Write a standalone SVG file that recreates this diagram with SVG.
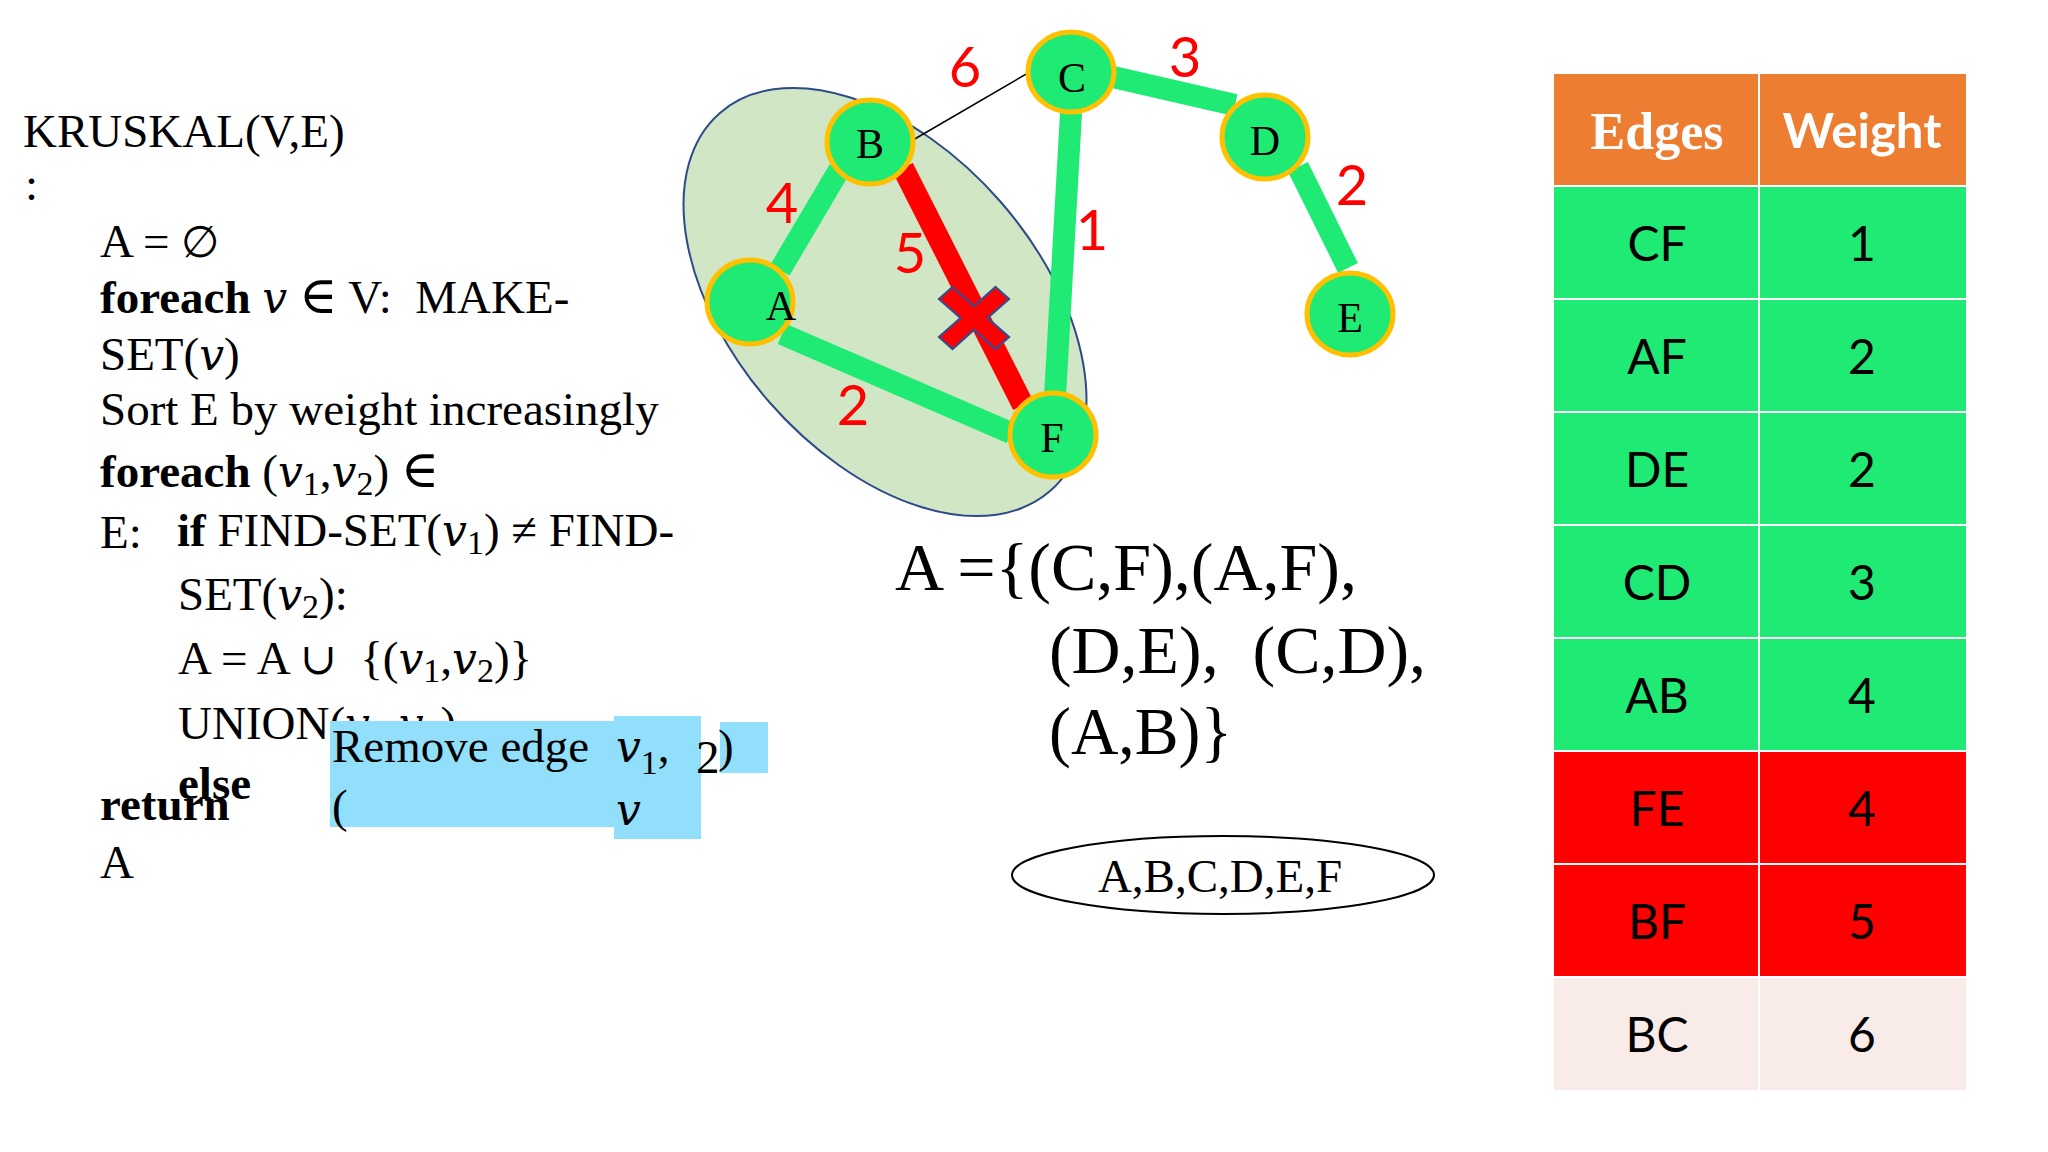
<svg xmlns="http://www.w3.org/2000/svg" width="2048" height="1152" viewBox="0 0 2048 1152">
<style>
.code{font-family:"Liberation Serif","DejaVu Serif",serif;font-size:47px;fill:#000}
.b{font-weight:bold}
.it{font-style:italic;font-family:"DejaVu Serif",serif;font-size:44px}
.sym{font-family:"DejaVu Serif",serif;font-size:44px}
.el{font-family:"DejaVu Serif",serif;font-size:52px}
.sub{font-size:34px}
.nodeshape{fill:#1FEB74;stroke:#FFC000;stroke-width:5}
.nlabel{font-family:"Liberation Serif","DejaVu Serif",serif;font-size:42px;fill:#000;text-anchor:middle}
.edge{stroke:#1FEB74;stroke-width:22;stroke-linecap:butt;fill:none}
.wt{font-family:Lato,"Liberation Sans",sans-serif;font-size:56px;fill:#FF0000;text-anchor:middle}
.set{font-family:"Liberation Serif","DejaVu Serif",serif;font-size:68px;fill:#000}
.cell{font-family:Lato,"Liberation Sans",sans-serif;font-size:48px;fill:#000;text-anchor:middle}
.blue{fill:#91DFFA}
</style>
<rect width="2048" height="1152" fill="#FFFFFF"/>

<g id="pseudocode">
<text class="code" x="23" y="147" font-size="45">KRUSKAL(V,E)</text>
<text class="code" x="25" y="200">:</text>
<text class="code" x="100" y="257">A = <tspan class="sym">∅</tspan></text>
<text class="code" x="100" y="313"><tspan class="b">foreach</tspan> <tspan class="it">v</tspan> <tspan class="el">∈</tspan> V:&#160; MAKE-</text>
<text class="code" x="100" y="370">SET(<tspan class="it">v</tspan>)</text>
<text class="code" x="100" y="425">Sort E by weight increasingly</text>
<text class="code" x="100" y="487"><tspan class="b">foreach</tspan> (<tspan class="it">v</tspan><tspan class="sub" dy="8">1</tspan><tspan dy="-8">,</tspan><tspan class="it">v</tspan><tspan class="sub" dy="8">2</tspan><tspan dy="-8">) </tspan><tspan class="el">∈</tspan></text>
<text class="code" x="100" y="548">E:</text>
<text class="code" x="177" y="546"><tspan class="b">if</tspan> FIND-SET(<tspan class="it">v</tspan><tspan class="sub" dy="8">1</tspan><tspan dy="-8">) ≠ FIND-</tspan></text>
<text class="code" x="178" y="610">SET(<tspan class="it">v</tspan><tspan class="sub" dy="8">2</tspan><tspan dy="-8">):</tspan></text>
<text class="code" x="178" y="674">A = A <tspan class="sym">∪</tspan>&#160; {(<tspan class="it">v</tspan><tspan class="sub" dy="8">1</tspan><tspan dy="-8">,</tspan><tspan class="it">v</tspan><tspan class="sub" dy="8">2</tspan><tspan dy="-8">)}</tspan></text>
<text class="code" x="178" y="739">UNION(<tspan class="it">v</tspan><tspan class="sub" dy="8">1</tspan><tspan dy="-8">,</tspan><tspan class="it">v</tspan><tspan class="sub" dy="8">2</tspan><tspan dy="-8">)</tspan></text>
<text class="code b" x="178" y="799">else</text>
<text class="code b" x="100" y="820">return</text>
<text class="code" x="100" y="878">A</text>
</g>

<g id="remove-edge-note">
<rect class="blue" x="330" y="721" width="285" height="106"/>
<rect class="blue" x="614" y="716" width="87" height="123"/>
<rect class="blue" x="720" y="722" width="48" height="51"/>
<text class="code" x="332" y="762">Remove edge</text>
<text class="code" x="616" y="762"><tspan class="it">v</tspan><tspan class="sub" dy="12">1</tspan><tspan dy="-12">,</tspan></text>
<text class="code" x="696" y="773" font-size="36">2</text>
<text class="code" x="718" y="762">)</text>
<text class="code" x="332" y="822">(</text>
<text class="code it" x="616" y="825">v</text>
</g>

<g id="component-ellipse">
<ellipse cx="885" cy="302" rx="251" ry="153" transform="rotate(48.8 885 302)" fill="#D0E6C4" stroke="#2F4A8A" stroke-width="2"/>
</g>

<g id="connectors">
<line class="edge" x1="780" y1="270" x2="839" y2="170"/>
<line class="edge" x1="782" y1="334" x2="1011" y2="433"/>
<line class="edge" x1="903" y1="168" x2="1023" y2="405" style="stroke:#FF0000"/>
<line class="edge" x1="1071" y1="113" x2="1055" y2="397"/>
<line class="edge" x1="1113" y1="77" x2="1235" y2="105"/>
<line class="edge" x1="1298" y1="167" x2="1348" y2="268"/>
<line x1="913" y1="140" x2="1028" y2="73" stroke="#000" stroke-width="1.5"/>
</g>

<g id="removed-mark">
<polygon transform="translate(974 318) scale(0.95 0.84)" points="-22.6,36.8 0,14.1 22.6,36.8 36.8,22.6 14.1,0 36.8,-22.6 22.6,-36.8 0,-14.1 -22.6,-36.8 -36.8,-22.6 -14.1,0 -36.8,22.6" fill="#FF0000" stroke="#3C4A8C" stroke-width="2.5"/>
</g>

<g id="node-A"><ellipse class="nodeshape" cx="750" cy="302" rx="43" ry="42"/><text class="nlabel" x="781" y="320">A</text></g>
<g id="node-B"><ellipse class="nodeshape" cx="870" cy="142" rx="43" ry="42"/><text class="nlabel" x="870" y="158">B</text></g>
<g id="node-C"><ellipse class="nodeshape" cx="1071" cy="72" rx="43" ry="40"/><text class="nlabel" x="1072" y="92">C</text></g>
<g id="node-D"><ellipse class="nodeshape" cx="1265" cy="137" rx="43" ry="42"/><text class="nlabel" x="1265" y="155">D</text></g>
<g id="node-E"><ellipse class="nodeshape" cx="1350" cy="314" rx="43" ry="41"/><text class="nlabel" x="1350" y="332">E</text></g>
<g id="node-F"><ellipse class="nodeshape" cx="1053" cy="435" rx="43" ry="42"/><text class="nlabel" x="1052" y="452">F</text></g>

<g id="edge-weights">
<text class="wt" x="965" y="87">6</text>
<text class="wt" x="782" y="223">4</text>
<text class="wt" x="910" y="273">5</text>
<text class="wt" x="1092" y="250">1</text>
<text class="wt" x="853" y="425">2</text>
<text class="wt" x="1185" y="77">3</text>
<text class="wt" x="1352" y="205">2</text>
</g>

<g id="result-set">
<text class="set" x="895" y="590" textLength="462" lengthAdjust="spacingAndGlyphs">A ={(C,F),(A,F),</text>
<text class="set" x="1049" y="673" textLength="377" lengthAdjust="spacingAndGlyphs">(D,E),&#160; (C,D),</text>
<text class="set" x="1049" y="754" textLength="183" lengthAdjust="spacingAndGlyphs">(A,B)}</text>
</g>

<g id="merged-set">
<ellipse cx="1223" cy="875" rx="211" ry="39" fill="#FFFFFF" stroke="#000" stroke-width="2"/>
<text class="code" x="1220" y="892" font-size="45" text-anchor="middle">A,B,C,D,E,F</text>
</g>

<g id="table">
<rect x="1554" y="74" width="412" height="112" fill="#ED7D31"/>
<rect x="1554" y="186" width="412" height="565" fill="#1FEB74"/>
<rect x="1554" y="751" width="412" height="226" fill="#FF0000"/>
<rect x="1554" y="977" width="412" height="113" fill="#F9EBE7"/>
<g stroke="#FFFFFF" stroke-width="2">
<line x1="1759" y1="74" x2="1759" y2="1090"/>
<line x1="1554" y1="186" x2="1966" y2="186"/>
<line x1="1554" y1="299" x2="1966" y2="299"/>
<line x1="1554" y1="412" x2="1966" y2="412"/>
<line x1="1554" y1="525" x2="1966" y2="525"/>
<line x1="1554" y1="638" x2="1966" y2="638"/>
<line x1="1554" y1="751" x2="1966" y2="751"/>
<line x1="1554" y1="864" x2="1966" y2="864"/>
<line x1="1554" y1="977" x2="1966" y2="977"/>
</g>
<text x="1657" y="149" font-family="'Liberation Serif',serif" font-weight="bold" font-size="52" fill="#FFFFFF" text-anchor="middle">Edges</text>
<text x="1862" y="148" font-family="Lato,'Liberation Sans',sans-serif" font-weight="bold" font-size="48" fill="#FFFFFF" text-anchor="middle" textLength="159" lengthAdjust="spacingAndGlyphs">Weight</text>
<text class="cell" x="1657" y="261">CF</text><text class="cell" x="1862" y="261">1</text>
<text class="cell" x="1657" y="374">AF</text><text class="cell" x="1862" y="374">2</text>
<text class="cell" x="1657" y="487">DE</text><text class="cell" x="1862" y="487">2</text>
<text class="cell" x="1657" y="600">CD</text><text class="cell" x="1862" y="600">3</text>
<text class="cell" x="1657" y="713">AB</text><text class="cell" x="1862" y="713">4</text>
<text class="cell" x="1657" y="826">FE</text><text class="cell" x="1862" y="826">4</text>
<text class="cell" x="1657" y="939">BF</text><text class="cell" x="1862" y="939">5</text>
<text class="cell" x="1657" y="1052">BC</text><text class="cell" x="1862" y="1052">6</text>
</g>
</svg>
